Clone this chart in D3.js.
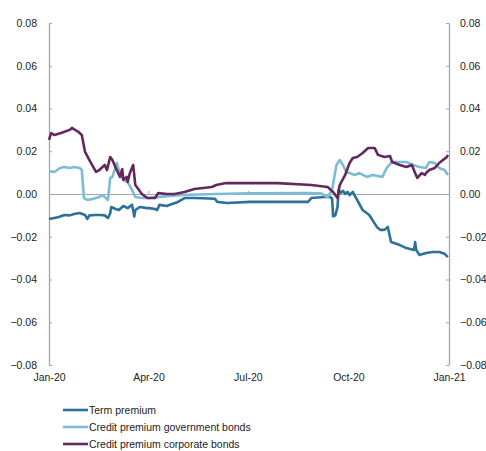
<!DOCTYPE html>
<html><head><meta charset="utf-8">
<script src="https://cdn.jsdelivr.net/npm/d3@7"></script>
<style>body{margin:0;background:#fff;} text{font-family:"Liberation Sans",Arial,sans-serif;fill:#222;}</style>
</head><body><svg id="c" width="486" height="451"></svg>
<script>
const seriesNames = ["Term premium","Credit premium government bonds","Credit premium corporate bonds"];
const seriesColors = ["#2c7199","#7dbbd6","#63295f"];
const yTicks = [-0.08,-0.06,-0.04,-0.02,0,0.02,0.04,0.06,0.08];
const xTickDates = ["2020-01-01","2020-04-01","2020-07-01","2020-10-01","2021-01-01"];
const xTickLabels = ["Jan-20","Apr-20","Jul-20","Oct-20","Jan-21"];

const termPremium = [
["2020-01-01",-0.0117],["2020-01-06",-0.0112],["2020-01-10",-0.0108],["2020-01-15",-0.0098],["2020-01-20",-0.0100],
["2020-01-24",-0.0094],["2020-01-29",-0.0089],["2020-02-03",-0.0098],["2020-02-05",-0.0117],["2020-02-07",-0.0100],
["2020-02-12",-0.0098],["2020-02-17",-0.0098],["2020-02-21",-0.0100],["2020-02-24",-0.0112],["2020-02-26",-0.0090],
["2020-02-27",-0.0061],["2020-03-02",-0.0070],["2020-03-05",-0.0075],["2020-03-09",-0.0056],["2020-03-13",-0.0066],
["2020-03-17",-0.0050],["2020-03-19",-0.0105],["2020-03-20",-0.0075],["2020-03-24",-0.0061],["2020-03-31",-0.0066],
["2020-04-02",-0.0066],["2020-04-07",-0.0070],["2020-04-09",-0.0075],["2020-04-11",-0.0051],["2020-04-18",-0.0056],
["2020-04-20",-0.0051],["2020-04-28",-0.0037],["2020-05-04",-0.0019],["2020-05-13",-0.0019],["2020-05-27",-0.0021],
["2020-06-01",-0.0023],["2020-06-03",-0.0037],["2020-06-12",-0.0042],["2020-07-03",-0.0037],["2020-07-28",-0.0037],
["2020-08-25",-0.0037],["2020-08-28",-0.0019],["2020-09-09",-0.0014],["2020-09-14",-0.0014],["2020-09-16",-0.0020],
["2020-09-17",-0.0105],["2020-09-19",-0.0100],["2020-09-21",-0.0060],["2020-09-22",0.0020],["2020-09-24",0.0005],
["2020-09-26",0.0015],["2020-09-28",0.0000],["2020-09-30",0.0010],["2020-10-02",-0.0005],["2020-10-05",0.0010],
["2020-10-07",-0.0010],["2020-10-09",-0.0028],["2020-10-14",-0.0075],["2020-10-20",-0.0098],["2020-10-27",-0.0154],
["2020-10-30",-0.0168],["2020-11-03",-0.0168],["2020-11-06",-0.0154],["2020-11-09",-0.0225],["2020-11-17",-0.0239],
["2020-11-23",-0.0253],["2020-11-30",-0.0262],["2020-12-01",-0.0225],["2020-12-02",-0.0262],["2020-12-05",-0.0285],
["2020-12-11",-0.0276],["2020-12-17",-0.0271],["2020-12-23",-0.0271],["2020-12-28",-0.0280],["2020-12-31",-0.0295]
];
const creditGov = [
["2020-01-01",0.0107],["2020-01-06",0.0103],["2020-01-11",0.0122],["2020-01-15",0.0126],["2020-01-20",0.0122],
["2020-01-24",0.0126],["2020-01-29",0.0122],["2020-01-31",0.0112],["2020-02-02",-0.0019],["2020-02-05",-0.0028],
["2020-02-10",-0.0023],["2020-02-16",-0.0014],["2020-02-19",-0.0005],["2020-02-24",-0.0028],["2020-02-26",0.0075],
["2020-02-28",0.0080],["2020-03-03",0.0145],["2020-03-06",0.0098],["2020-03-09",0.0066],["2020-03-13",0.0056],
["2020-03-17",0.0019],["2020-03-20",-0.0014],["2020-03-26",-0.0019],["2020-04-02",-0.0019],["2020-04-18",-0.0010],
["2020-05-02",-0.0005],["2020-06-01",0.0000],["2020-07-03",0.0003],["2020-08-25",0.0005],["2020-09-06",0.0003],
["2020-09-12",-0.0014],["2020-09-16",0.0019],["2020-09-20",0.0136],["2020-09-23",0.0159],["2020-09-26",0.0136],
["2020-09-29",0.0103],["2020-10-07",0.0089],["2020-10-11",0.0098],["2020-10-18",0.0080],["2020-10-23",0.0089],
["2020-11-01",0.0080],["2020-11-05",0.0122],["2020-11-10",0.0150],["2020-11-17",0.0150],["2020-11-23",0.0150],
["2020-11-29",0.0136],["2020-12-05",0.0126],["2020-12-11",0.0122],["2020-12-14",0.0150],["2020-12-19",0.0145],
["2020-12-23",0.0122],["2020-12-28",0.0112],["2020-12-31",0.0089]
];
const creditCorp = [
["2020-01-01",0.0253],["2020-01-03",0.0285],["2020-01-06",0.0276],["2020-01-12",0.0285],["2020-01-20",0.0300],
["2020-01-22",0.0309],["2020-01-28",0.0290],["2020-01-31",0.0276],["2020-02-03",0.0197],["2020-02-07",0.0159],
["2020-02-13",0.0103],["2020-02-16",0.0112],["2020-02-21",0.0136],["2020-02-23",0.0112],["2020-02-26",0.0173],
["2020-02-28",0.0159],["2020-03-03",0.0112],["2020-03-06",0.0080],["2020-03-08",0.0117],["2020-03-09",0.0066],
["2020-03-12",0.0080],["2020-03-13",0.0056],["2020-03-15",0.0098],["2020-03-18",0.0136],["2020-03-20",0.0042],
["2020-03-22",0.0028],["2020-03-26",0.0000],["2020-03-31",-0.0019],["2020-04-07",-0.0019],["2020-04-10",0.0005],
["2020-04-18",0.0000],["2020-04-25",0.0000],["2020-05-04",0.0009],["2020-05-13",0.0023],["2020-05-29",0.0033],
["2020-06-02",0.0042],["2020-06-11",0.0051],["2020-07-03",0.0051],["2020-07-28",0.0051],["2020-08-28",0.0042],
["2020-09-12",0.0033],["2020-09-17",0.0009],["2020-09-21",-0.0019],["2020-09-23",0.0042],["2020-09-28",0.0089],
["2020-10-02",0.0145],["2020-10-05",0.0168],["2020-10-09",0.0173],["2020-10-14",0.0192],["2020-10-19",0.0215],
["2020-10-25",0.0215],["2020-10-28",0.0183],["2020-11-03",0.0173],["2020-11-08",0.0178],["2020-11-10",0.0150],
["2020-11-17",0.0136],["2020-11-23",0.0126],["2020-11-28",0.0136],["2020-12-01",0.0098],["2020-12-03",0.0075],
["2020-12-07",0.0098],["2020-12-10",0.0089],["2020-12-11",0.0098],["2020-12-14",0.0112],["2020-12-19",0.0122],
["2020-12-23",0.0145],["2020-12-30",0.0173],["2020-12-31",0.0183]
];

const parse = d3.timeParse("%Y-%m-%d");
const svg = d3.select("#c");
const L = 49, R = 449, T = 23, B = 365;
const x = d3.scaleTime().domain([parse("2020-01-01"), parse("2021-01-01")]).range([L, R]);
const y = d3.scaleLinear().domain([-0.08, 0.08]).range([B, T]);
const axisColor = "#a6a6a6";
const fmt = d3.format(".2f");

const la = svg.append("g").attr("transform", `translate(${L},0)`)
  .call(d3.axisLeft(y).tickValues(yTicks).tickFormat(fmt).tickSizeInner(-3).tickSizeOuter(0).tickPadding(12));
const ra = svg.append("g").attr("transform", `translate(${R},0)`)
  .call(d3.axisRight(y).tickValues(yTicks).tickFormat(fmt).tickSizeInner(-3).tickSizeOuter(0).tickPadding(11));
[la, ra].forEach(g => {
  g.select(".domain").attr("stroke", axisColor).attr("stroke-width", 1.3);
  g.selectAll(".tick line").attr("stroke", axisColor);
  g.selectAll(".tick text").attr("font-size", 10.5).attr("fill", "#222");
});

const xa = svg.append("g").attr("transform", `translate(0,${y(0)})`)
  .call(d3.axisBottom(x).tickValues(xTickDates.map(parse)).tickFormat((d, i) => xTickLabels[i]).tickSizeInner(-3).tickSizeOuter(0));
xa.select(".domain").attr("stroke", axisColor).attr("stroke-width", 1);
xa.selectAll(".tick line").attr("stroke", axisColor);
xa.selectAll(".tick text").attr("font-size", 10.5).attr("fill", "#222").attr("y", B - y(0) + 16).attr("dy", "0");

const line = d3.line().x(d => x(parse(d[0]))).y(d => y(d[1]));
[termPremium, creditGov, creditCorp].forEach((s, i) => {
  svg.append("path").datum(s).attr("d", line).attr("fill", "none")
    .attr("stroke", seriesColors[i]).attr("stroke-width", 2.6).attr("stroke-linejoin", "round");
});

const lg = svg.append("g");
seriesNames.forEach((n, i) => {
  const yy = 410 + i * 17;
  lg.append("line").attr("x1", 63).attr("x2", 88).attr("y1", yy).attr("y2", yy)
    .attr("stroke", seriesColors[i]).attr("stroke-width", 2.6);
  lg.append("text").attr("x", 89).attr("y", yy + 4).attr("font-size", 10.5).text(n);
});
</script></body></html>
